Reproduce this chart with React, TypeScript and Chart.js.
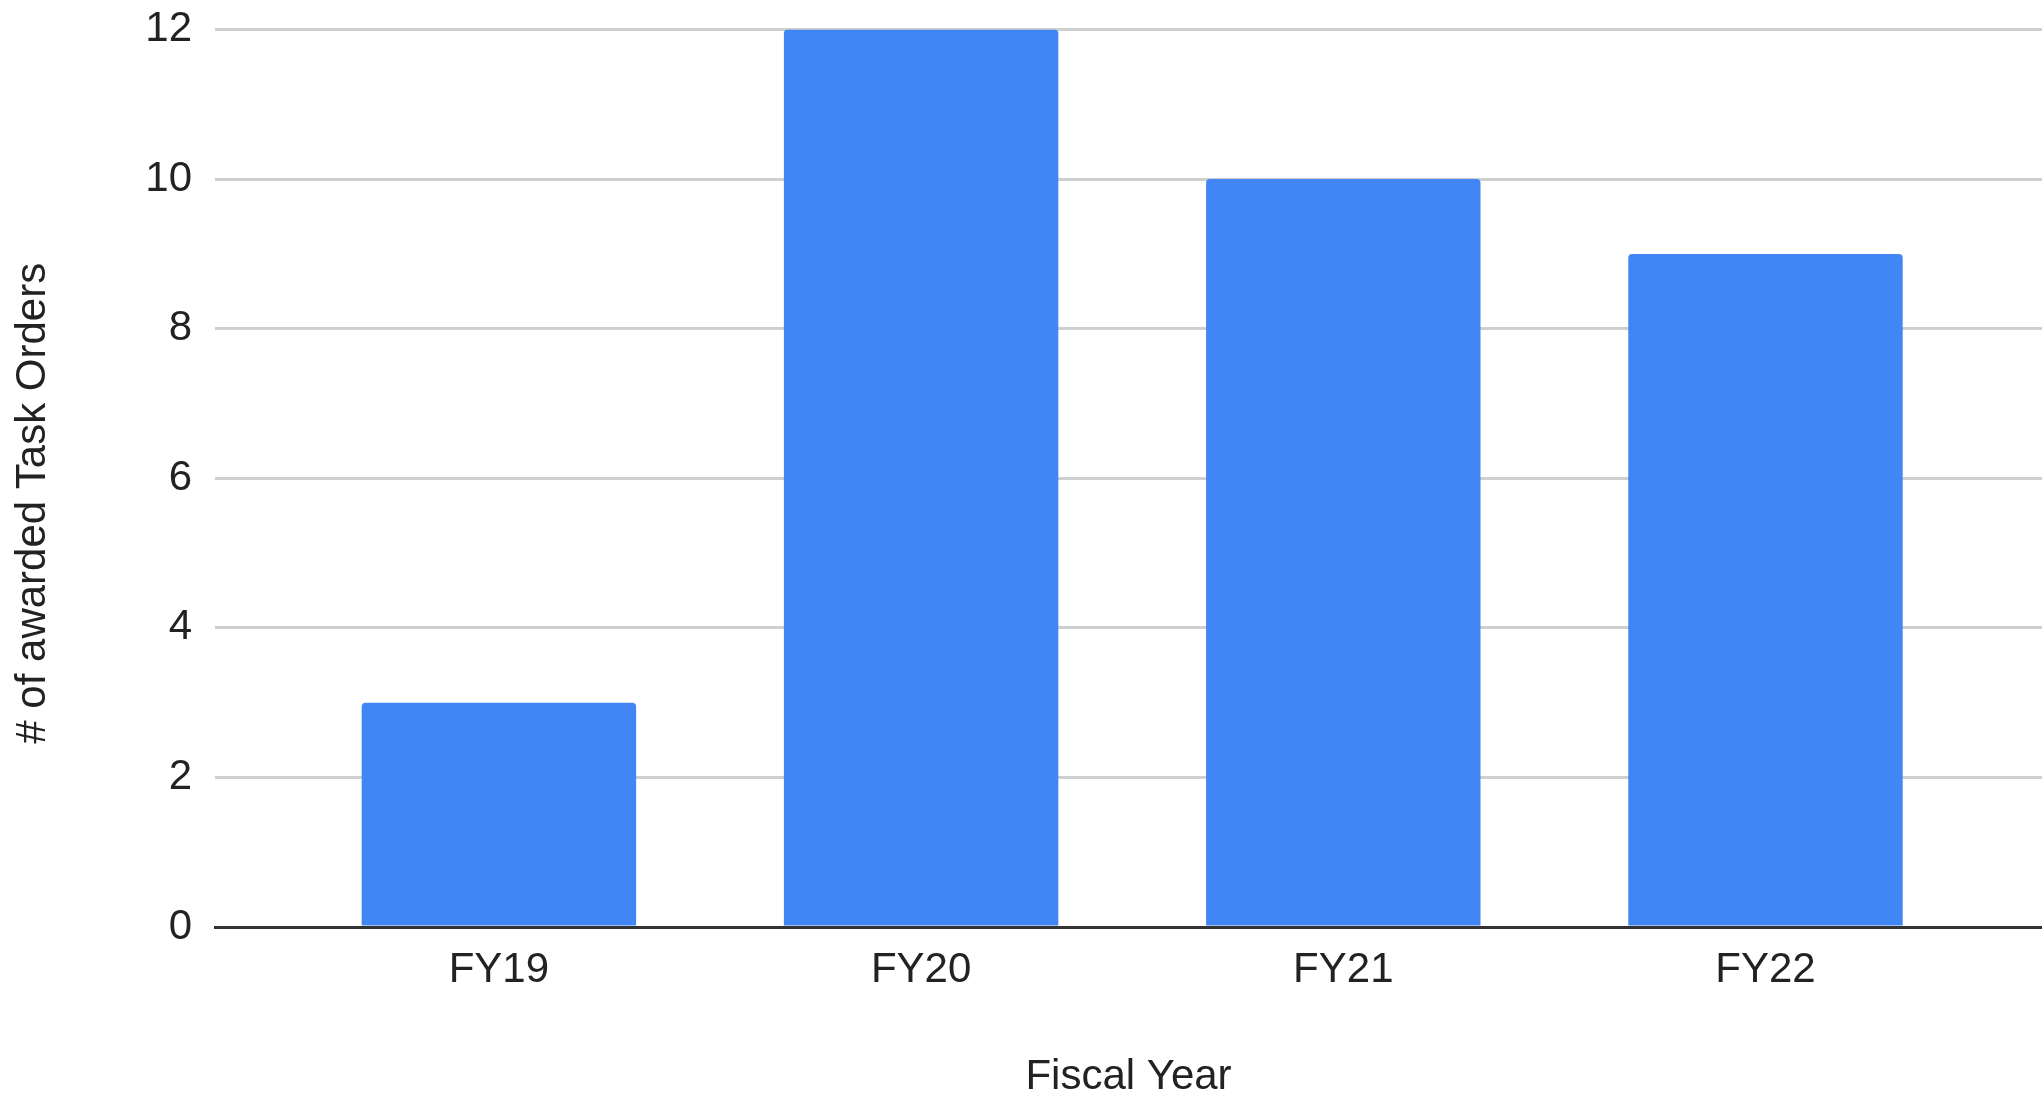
import React, { useEffect, useRef } from 'react';
import { Chart, registerables } from 'chart.js';

Chart.register(...registerables);

const categories = ['FY19', 'FY20', 'FY21', 'FY22'];
const taskOrders = [3, 12, 10, 9];
const yTicks = [0, 2, 4, 6, 8, 10, 12];
const xAxisTitle = 'Fiscal Year';
const yAxisTitle = '# of awarded Task Orders';

export default function App() {
  const ref = useRef<HTMLCanvasElement>(null);

  useEffect(() => {
    document.body.style.margin = '0';
    const canvas = ref.current;
    if (!canvas) return;
    const family = 'Arial, "Liberation Sans", sans-serif';
    const font = { family, size: 42 };

    const yTitlePlugin = {
      id: 'yTitle',
      afterDraw(c: any) {
        const ctx = c.ctx;
        const area = c.chartArea;
        ctx.save();
        ctx.font = `42px ${family}`;
        ctx.fillStyle = '#222222';
        ctx.textAlign = 'center';
        ctx.textBaseline = 'middle';
        ctx.translate(33, (area.top + area.bottom) / 2 + 25);
        ctx.rotate(-Math.PI / 2);
        ctx.fillText(yAxisTitle, 0, 0);
        ctx.restore();
      },
    };

    const chart = new Chart(canvas, {
      type: 'bar',
      data: {
        datasets: [
          {
            data: categories.map((_, i) => ({ x: i, y: taskOrders[i] })),
            backgroundColor: '#4285f4',
            borderRadius: { topLeft: 4, topRight: 4, bottomLeft: 0, bottomRight: 0 },
            categoryPercentage: 1,
            barPercentage: 0.65,
          },
        ],
      },
      options: {
        animation: false,
        responsive: false,
        devicePixelRatio: 1,
        layout: { padding: { top: 29.5, right: 0, bottom: 0, left: 0 } },
        plugins: {
          legend: { display: false },
          tooltip: { enabled: false },
        },
        scales: {
          x: {
            type: 'linear',
            offset: false,
            min: -0.6724,
            max: 3.6549,
            afterBuildTicks: (s: any) => {
              s.ticks = categories.map((_, i) => ({ value: i }));
            },
            afterFit: (s: any) => {
              s.height = 171;
              s.paddingLeft = 0;
              s.paddingRight = 0;
            },
            grid: { display: false, drawTicks: false, offset: false },
            border: { display: true, color: '#333333', width: 3, z: 1 },
            ticks: {
              callback: (v: any) => categories[v] ?? '',
              font,
              color: '#222222',
              padding: 18,
              maxRotation: 0,
              autoSkip: false,
            },
            title: {
              display: true,
              text: xAxisTitle,
              font: { family, size: 42, lineHeight: 1 },
              color: '#222222',
              padding: { top: 0, bottom: 0 },
            },
          },
          y: {
            min: 0,
            max: 12,
            afterBuildTicks: (s: any) => {
              s.ticks = yTicks.map((v) => ({ value: v }));
            },
            afterFit: (s: any) => {
              s.width = 215;
              s.paddingTop = 0;
              s.paddingBottom = 0;
            },
            grid: { color: '#cfcfcf', lineWidth: 3, drawTicks: false },
            border: { display: false },
            ticks: { font, color: '#222222', padding: 23 },
            title: { display: false, text: yAxisTitle },
          },
        },
      } as any,
      plugins: [yTitlePlugin],
    });
    return () => chart.destroy();
  }, []);

  return (
    <div style={{ width: 2042, height: 1098 }}>
      <canvas ref={ref} width={2042} height={1098} style={{ display: 'block' }} />
    </div>
  );
}
